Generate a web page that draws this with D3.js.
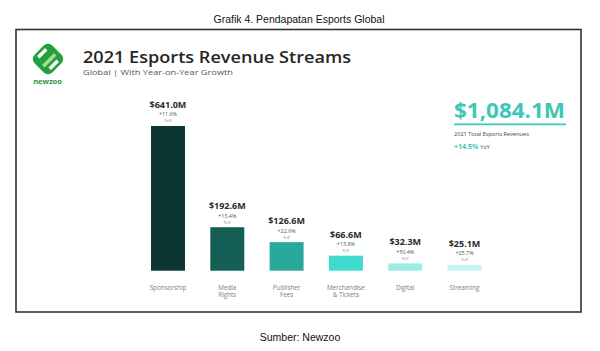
<!DOCTYPE html>
<html>
<head>
<meta charset="utf-8">
<script src="https://cdn.jsdelivr.net/npm/d3@7"></script>
<style>
  body { margin: 0; background: #fff; }
  svg { display: block; }
</style>
</head>
<body>
<div class="chart"></div>
<script>
// chart data
const categories = ["Sponsorship", "Media Rights", "Publisher Fees", "Merchandise & Tickets", "Digital", "Streaming"];
const categoryLines = [["Sponsorship"], ["Media", "Rights"], ["Publisher", "Fees"], ["Merchandise", "& Tickets"], ["Digital"], ["Streaming"]];
const revenue = [641.0, 192.6, 126.6, 66.6, 32.3, 25.1];
const valueLabels = ["$641.0M", "$192.6M", "$126.6M", "$66.6M", "$32.3M", "$25.1M"];
const growthLabels = ["+11.6%", "+13.4%", "+22.6%", "+13.8%", "+50.4%", "+25.7%"];
const barColors = ["#0c3633", "#145e56", "#29a99a", "#3fdccd", "#9dece4", "#c4f4ef"];
const totalLabel = "$1,084.1M";
const totalGrowth = "+14.5%";

const width = 600, height = 351;
const svg = d3.select(".chart").append("svg")
    .attr("width", width)
    .attr("height", height);

// caption above and source below
svg.append("text")
  .attr("x", 299).attr("y", 23)
  .attr("text-anchor", "middle")
  .style("font-family", "Liberation Sans, Arial, sans-serif")
  .style("font-size", "10.5px")
  .attr("fill", "#111")
  .text("Grafik 4. Pendapatan Esports Global");

svg.append("text")
  .attr("x", 300).attr("y", 341)
  .attr("text-anchor", "middle")
  .style("font-family", "Liberation Sans, Arial, sans-serif")
  .style("font-size", "10.5px")
  .attr("fill", "#111")
  .text("Sumber: Newzoo");

// frame
svg.append("rect")
  .attr("x", 16).attr("y", 29.5)
  .attr("width", 565).attr("height", 282.5)
  .attr("fill", "#fff")
  .attr("stroke", "#333")
  .attr("stroke-width", 1.6);

// logo
const logo = svg.append("g").attr("transform", "translate(48,59)");
logo.append("rect")
  .attr("x", -12.5).attr("y", -12.5)
  .attr("width", 25).attr("height", 25)
  .attr("rx", 6)
  .attr("fill", "#21a03c")
  .attr("transform", "rotate(45)");
logo.append("path")
  .attr("d", "M-11,-3 L-3,-11 L-0.5,-8.5 L-8.5,-0.5 Z M0.5,8.5 L8.5,0.5 L11,3 L3,11 Z")
  .attr("fill", "#fff");
logo.append("path")
  .attr("d", "M-6,6 L6,-6 L8.5,-3.5 L-3.5,8.5 Z")
  .attr("fill", "#a5dc93");
svg.append("text")
  .attr("x", 47.5).attr("y", 84)
  .attr("text-anchor", "middle")
  .style("font-family", "Open Sans, sans-serif")
  .style("font-weight", 700)
  .style("font-size", "7.5px")
  .attr("fill", "#2a9440")
  .text("newzoo");

// header text
svg.append("text")
  .attr("x", 83).attr("y", 62.5)
  .attr("textLength", 268)
  .attr("lengthAdjust", "spacingAndGlyphs")
  .style("font-family", "Open Sans, sans-serif")
  .style("font-weight", 600)
  .style("font-size", "16px")
  .attr("fill", "#262626")
  .text("2021 Esports Revenue Streams");

svg.append("text")
  .attr("x", 83).attr("y", 74.5)
  .attr("textLength", 150)
  .attr("lengthAdjust", "spacingAndGlyphs")
  .style("font-family", "Open Sans, sans-serif")
  .style("font-size", "7.2px")
  .attr("fill", "#555")
  .text("Global | With Year-on-Year Growth");

// scales
const x = d3.scaleBand()
    .domain(categories)
    .range([151, 481.5])
    .paddingInner(0.427)
    .paddingOuter(0);

const y = d3.scaleLinear()
    .domain([0, d3.max(revenue)])
    .range([270.7, 126]);

const rows = categories.map((c, i) => ({
  cat: c, lines: categoryLines[i], value: revenue[i],
  label: valueLabels[i], growth: growthLabels[i], color: barColors[i]
}));

const bars = svg.selectAll(".bar-group")
  .data(rows)
  .join("g")
  .attr("class", "bar-group");

bars.append("rect")
  .attr("class", "bar")
  .attr("x", d => x(d.cat))
  .attr("y", d => y(d.value))
  .attr("width", x.bandwidth())
  .attr("height", d => y(0) - y(d.value))
  .attr("fill", d => d.color);

bars.append("text")
  .attr("x", d => x(d.cat) + x.bandwidth() / 2)
  .attr("y", d => y(d.value) - 18)
  .attr("text-anchor", "middle")
  .style("font-family", "Open Sans, sans-serif")
  .style("font-weight", 700)
  .style("font-size", "9px")
  .attr("fill", "#2a2a2a")
  .text(d => d.label);

bars.append("text")
  .attr("x", d => x(d.cat) + x.bandwidth() / 2)
  .attr("y", d => y(d.value) - 9.6)
  .attr("text-anchor", "middle")
  .style("font-family", "Open Sans, sans-serif")
  .style("font-size", "5.4px")
  .attr("fill", "#555")
  .text(d => d.growth);

bars.append("text")
  .attr("x", d => x(d.cat) + x.bandwidth() / 2)
  .attr("y", d => y(d.value) - 3.6)
  .attr("text-anchor", "middle")
  .style("font-family", "Open Sans, sans-serif")
  .style("font-size", "4px")
  .attr("fill", "#777")
  .text("YoY");

// category labels
bars.append("text")
  .attr("text-anchor", "middle")
  .style("font-family", "Open Sans, sans-serif")
  .style("font-size", "6.3px")
  .attr("fill", "#808080")
  .selectAll("tspan")
  .data(d => d.lines.map((l, j) => ({ l, j, cx: x(d.cat) + x.bandwidth() / 2 })))
  .join("tspan")
  .attr("x", t => t.cx)
  .attr("y", t => 289.5 + t.j * 7.8)
  .text(t => t.l);

// total revenue callout
svg.append("text")
  .attr("x", 454).attr("y", 118)
  .attr("textLength", 111)
  .attr("lengthAdjust", "spacingAndGlyphs")
  .style("font-family", "Open Sans, sans-serif")
  .style("font-weight", 700)
  .style("font-size", "20.5px")
  .attr("fill", "#3ec7b5")
  .text(totalLabel);

svg.append("line")
  .attr("x1", 454).attr("x2", 566)
  .attr("y1", 124.3).attr("y2", 124.3)
  .attr("stroke", "#3ec7b5")
  .attr("stroke-width", 1.8);

svg.append("text")
  .attr("x", 454).attr("y", 136)
  .style("font-family", "Open Sans, sans-serif")
  .style("font-size", "5.6px")
  .attr("fill", "#444")
  .text("2021 Total Esports Revenues");

const tg = svg.append("text")
  .attr("x", 454).attr("y", 148.5)
  .style("font-family", "Open Sans, sans-serif");
tg.append("tspan")
  .style("font-weight", 700)
  .style("font-size", "7px")
  .attr("fill", "#3ec7b5")
  .text(totalGrowth);
tg.append("tspan")
  .attr("dx", 2)
  .style("font-size", "5.6px")
  .attr("fill", "#555")
  .text("YoY");
</script>
</body>
</html>
